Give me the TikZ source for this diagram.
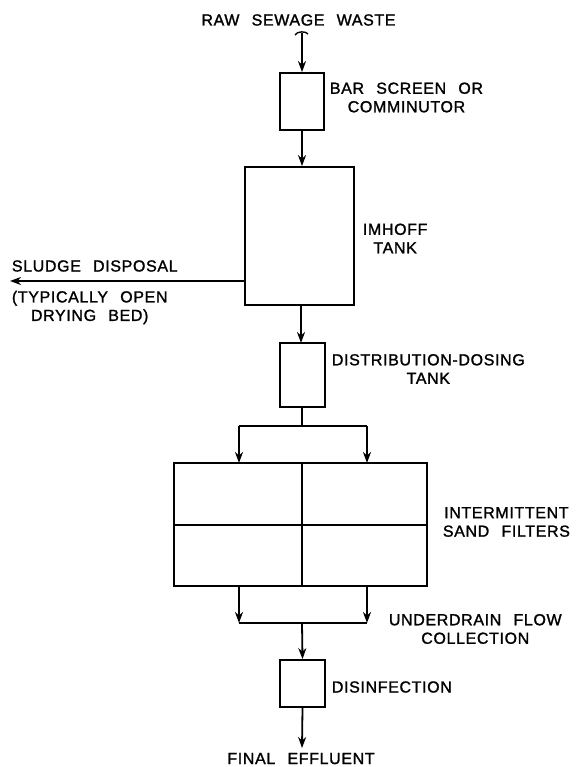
\documentclass[tikz,border=0pt]{standalone}
\usepackage{fontspec}
\setmainfont{Liberation Sans}[LetterSpace=4,WordSpace=2.4,FakeBold=1.4]
\usetikzlibrary{arrows.meta}
\begin{document}
\begin{tikzpicture}[x=1pt,y=-1pt,
  line width=1.8pt,
  box/.style={draw,line width=1.8pt,inner sep=0pt},
  lbl/.style={font=\fontsize{16}{18.5}\selectfont,align=center,inner sep=0pt},
  flow/.style={-{Stealth[length=11pt,width=8pt,inset=3.5pt]},line width=1.8pt}]
\useasboundingbox (0,0) rectangle (586,767);
% boxes
\node[box,minimum width=44pt,minimum height=57pt] (bar) at (302,101.5) {};
\node[box,minimum width=109pt,minimum height=138pt] (imh) at (299.5,236) {};
\node[box,minimum width=45pt,minimum height=64pt] (dist) at (302.5,375) {};
\node[box,minimum width=253pt,minimum height=123pt] (filt) at (300.5,524.5) {};
\coordinate (ftop) at (302,463);
\coordinate (fbot) at (302,586);
\coordinate (fl) at (174,525);
\coordinate (fr) at (427,525);
\draw (ftop) -- (fbot);
\draw (fl) -- (fr);
\node[box,minimum width=45pt,minimum height=47pt] (dis) at (302.5,683.5) {};
% texts
\node[lbl,anchor=base] (raw) at (298.5,25.5) {RAW SEWAGE WASTE};
\node[lbl,anchor=west] (barl) at (329,97.5) {BAR SCREEN OR\\COMMINUTOR};
\node[lbl,anchor=west] (imhl) at (362,238.5) {IMHOFF\\TANK};
\node[lbl,anchor=west] (slu) at (11,266) {SLUDGE DISPOSAL};
\node[lbl,anchor=west] (typ) at (11,307.5) {(TYPICALLY OPEN\\DRYING BED)};
\node[lbl,anchor=west] (distl) at (331,369) {DISTRIBUTION-DOSING\\TANK};
\node[lbl,anchor=west] (filtl) at (442,522) {INTERMITTENT\\SAND FILTERS};
\node[lbl,anchor=west] (undl) at (388,629) {UNDERDRAIN FLOW\\COLLECTION};
\node[lbl,anchor=west] (disl) at (331,687) {DISINFECTION};
\node[lbl,anchor=base] (fin) at (301,764) {FINAL EFFLUENT};
% connectors
\coordinate (in) at (302,33);
\coordinate (tl) at (295,35);
\coordinate (tr) at (308,34);
\draw[line width=1.4pt] (tl) .. controls (297,31) and (306,31) .. (tr);
\draw[flow] (in) -- (bar.north);
\draw[flow] (bar.south) -- (imh.north -| bar.south);
\coordinate (imhs) at (301,305);
\coordinate (dn) at (301,343);
\draw[flow] (imhs) -- (dn);
\coordinate (sl) at (10,281);
\draw[flow] (imh.west |- sl) -- (sl);
\coordinate (sp) at (302,426);
\coordinate (spl) at (239,426);
\coordinate (spr) at (367,426);
\coordinate (fil) at (239,463);
\coordinate (fir) at (367,463);
\draw (dist.south -| sp) -- (sp);
\draw (spl) -- (spr);
\draw[flow] (spl) -- (fil);
\draw[flow] (spr) -- (fir);
\coordinate (fol) at (239,586);
\coordinate (for) at (367,586);
\coordinate (cl) at (239,623);
\coordinate (cr) at (367,623);
\coordinate (cm) at (302,623);
\draw[flow] (fol) -- (cl);
\draw[flow] (for) -- (cr);
\draw (cl) -- (cr);
\draw[flow] (cm) -- (dis.north);
\coordinate (out) at (302,748);
\draw[flow] (dis.south) -- (out);
\end{tikzpicture}
\end{document}
